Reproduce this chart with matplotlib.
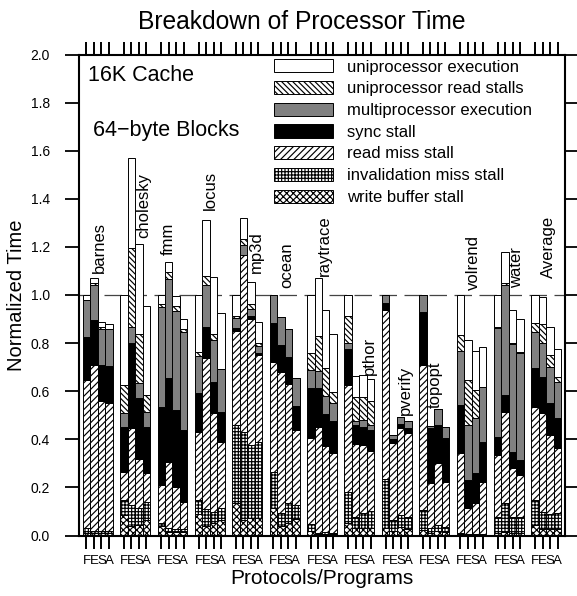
import matplotlib.pyplot as plt
import numpy as np

plt.rcParams['font.family'] = ['Liberation Sans', 'DejaVu Sans']
plt.rcParams['hatch.linewidth'] = 0.85

programs = ['barnes', 'cholesky', 'fmm', 'locus', 'mp3d', 'ocean', 'raytrace',
            'pthor', 'pverify', 'topopt', 'volrend', 'water', 'Average']
protocols = ['F', 'E', 'S', 'A']

# segment heights, one row per program, columns F E S A (bottom of stack first)
write_buffer = [[0.010, 0.010, 0.010, 0.010],
                [0.085, 0.040, 0.044, 0.064],
                [0.040, 0.015, 0.013, 0.013],
                [0.090, 0.040, 0.050, 0.064],
                [0.134, 0.064, 0.071, 0.071],
                [0.113, 0.040, 0.053, 0.070],
                [0.020, 0.005, 0.005, 0.005],
                [0.051, 0.030, 0.030, 0.030],
                [0.030, 0.020, 0.035, 0.025],
                [0.023, 0.010, 0.020, 0.014],
                [0.005, 0.002, 0.002, 0.002],
                [0.010, 0.014, 0.010, 0.010],
                [0.044, 0.025, 0.025, 0.025]]
invalidation = [[0.020, 0.010, 0.010, 0.010],
                [0.063, 0.087, 0.069, 0.076],
                [0.013, 0.015, 0.013, 0.013],
                [0.058, 0.069, 0.049, 0.049],
                [0.325, 0.368, 0.305, 0.319],
                [0.152, 0.055, 0.081, 0.057],
                [0.028, 0.007, 0.010, 0.007],
                [0.131, 0.048, 0.065, 0.073],
                [0.204, 0.044, 0.050, 0.053],
                [0.083, 0.020, 0.024, 0.020],
                [0.005, 0.003, 0.003, 0.003],
                [0.068, 0.120, 0.068, 0.068],
                [0.104, 0.074, 0.064, 0.068]]
read_miss = [[0.616, 0.689, 0.540, 0.533],
             [0.117, 0.319, 0.204, 0.121],
             [0.157, 0.277, 0.177, 0.114],
             [0.284, 0.628, 0.411, 0.277],
             [0.391, 0.734, 0.524, 0.360],
             [0.458, 0.586, 0.496, 0.312],
             [0.356, 0.440, 0.357, 0.330],
             [0.444, 0.302, 0.281, 0.250],
             [0.704, 0.319, 0.361, 0.350],
             [0.603, 0.190, 0.256, 0.190],
             [0.332, 0.108, 0.129, 0.219],
             [0.257, 0.381, 0.201, 0.174],
             [0.388, 0.409, 0.329, 0.269]]
sync = [[0.181, 0.187, 0.149, 0.152],
        [0.185, 0.354, 0.253, 0.189],
        [0.323, 0.347, 0.319, 0.299],
        [0.159, 0.131, 0.130, 0.125],
        [0.011, 0.000, 0.013, 0.010],
        [0.162, 0.111, 0.114, 0.099],
        [0.208, 0.160, 0.133, 0.135],
        [0.148, 0.080, 0.074, 0.086],
        [0.030, 0.017, 0.018, 0.018],
        [0.222, 0.226, 0.160, 0.180],
        [0.201, 0.118, 0.125, 0.166],
        [0.076, 0.069, 0.069, 0.062],
        [0.159, 0.152, 0.132, 0.125]]
mp_exec = [[0.153, 0.144, 0.151, 0.155],
           [0.060, 0.068, 0.063, 0.065],
           [0.418, 0.411, 0.411, 0.409],
           [0.155, 0.174, 0.173, 0.176],
           [0.042, 0.042, 0.027, 0.030],
           [0.115, 0.115, 0.115, 0.116],
           [0.076, 0.070, 0.075, 0.073],
           [0.025, 0.017, 0.032, 0.021],
           [0.032, 0.018, 0.030, 0.031],
           [0.069, 0.010, 0.066, 0.048],
           [0.225, 0.229, 0.229, 0.229],
           [0.452, 0.456, 0.449, 0.446],
           [0.153, 0.142, 0.152, 0.153]]
uni_read = [[0.000, 0.010, 0.008, 0.000],
            [0.115, 0.326, 0.205, 0.069],
            [0.012, 0.029, 0.021, 0.009],
            [0.018, 0.037, 0.025, 0.000],
            [0.010, 0.024, 0.023, 0.009],
            [0.000, 0.000, 0.000, 0.000],
            [0.070, 0.148, 0.115, 0.048],
            [0.114, 0.100, 0.095, 0.100],
            [0.000, 0.000, 0.000, 0.000],
            [0.000, 0.000, 0.000, 0.000],
            [0.067, 0.187, 0.117, 0.000],
            [0.005, 0.011, 0.005, 0.004],
            [0.037, 0.076, 0.048, 0.020]]
uni_exec = [[0.020, 0.022, 0.018, 0.018],
            [0.375, 0.374, 0.374, 0.372],
            [0.037, 0.042, 0.042, 0.042],
            [0.236, 0.231, 0.235, 0.236],
            [0.087, 0.088, 0.090, 0.090],
            [0.000, 0.000, 0.000, 0.000],
            [0.242, 0.242, 0.243, 0.240],
            [0.087, 0.086, 0.089, 0.090],
            [0.000, 0.000, 0.000, 0.000],
            [0.000, 0.000, 0.000, 0.000],
            [0.165, 0.166, 0.163, 0.164],
            [0.132, 0.129, 0.136, 0.135],
            [0.115, 0.115, 0.118, 0.115]]

# where the program names sit (bar slot, value at text start)
label_x = [1.67, 7.7, 10.9, 16.6, 22.7, 26.75, 31.8, 37.9, 42.6, 46.7, 51.8, 57.5, 61.8]
label_y = [1.09, 1.237, 1.166, 1.353, 1.09, 1.03, 1.08, 0.667, 0.50, 0.53, 1.02, 1.03, 1.07]

fig = plt.figure(figsize=(5.77, 5.96), dpi=100)
ax = fig.add_axes([79 / 577, 1 - 535.5 / 596, 486 / 577, 481 / 596])

x = np.array([g * 5 + j for g in range(len(programs)) for j in range(4)])

layers = [
    (write_buffer, 'white', 'xxxxx', 'write buffer stall'),
    (invalidation, 'white', '+++++', 'invalidation miss stall'),
    (read_miss, 'white', '/////', 'read miss stall'),
    (sync, 'black', None, 'sync stall'),
    (mp_exec, '#808080', None, 'multiprocessor execution'),
    (uni_read, 'white', '\\\\\\\\\\\\', 'uniprocessor read stalls'),
    (uni_exec, 'white', None, 'uniprocessor execution'),
]

bottom = np.zeros(len(x))
handles = []
for vals, color, hatch, label in layers:
    v = np.array(vals).ravel()
    b = ax.bar(x, v, width=1.0, bottom=bottom, color=color, hatch=hatch,
               edgecolor='black', linewidth=0.7, label=label, zorder=2)
    handles.append(b)
    bottom += v

ax.axhline(1.0, color='#444444', lw=0.9, dashes=(14, 6), zorder=1)

for name, lx, ly in zip(programs, label_x, label_y):
    ax.text(lx, ly, name, rotation=90, ha='center', va='bottom', fontsize=12)

ax.text(0.0185, 0.957, '16K Cache', transform=ax.transAxes, fontsize=15.5, va='center')
ax.text(0.028, 0.843, '64\u2212byte Blocks', transform=ax.transAxes, fontsize=15.5, va='center')

ax.legend(handles[::-1], [h.get_label() for h in handles[::-1]],
          loc='upper left', bbox_to_anchor=(0.401, 0.99), frameon=False,
          fontsize=12, handlelength=3.54, handleheight=0.84, handletextpad=0.85,
          labelspacing=0.38, borderpad=0, borderaxespad=0)

ax.set_xlim(-1, 64)
ax.set_ylim(0, 2.0)
ax.set_xticks(x)
ax.set_xticklabels(protocols * len(programs), fontsize=9.5,
                   family=['Liberation Sans Narrow', 'Liberation Sans'])
ax.set_yticks(np.arange(0, 2.01, 0.2))
ax.set_yticklabels(['%.1f' % v for v in np.arange(0, 2.01, 0.2)])
ax.tick_params(axis='x', direction='out', length=9.5, width=1.4, top=True, pad=4.5)
ax.tick_params(axis='y', direction='out', length=10, width=1.3, right=True,
               labelsize=10, pad=11)
for s in ax.spines.values():
    s.set_linewidth(1.5)

fig.text(301.5 / 577, 1 - 29 / 596, 'Breakdown of Processor Time', ha='center',
         va='baseline', fontsize=17.7)
fig.text(322 / 577, 1 - 579 / 596, 'Protocols/Programs', ha='center', va='center', fontsize=15)
fig.text(17 / 577, 1 - 295 / 596, 'Normalized Time', rotation=90, ha='center',
         va='center', fontsize=14.5)

fig.savefig('out.png', dpi=100)
